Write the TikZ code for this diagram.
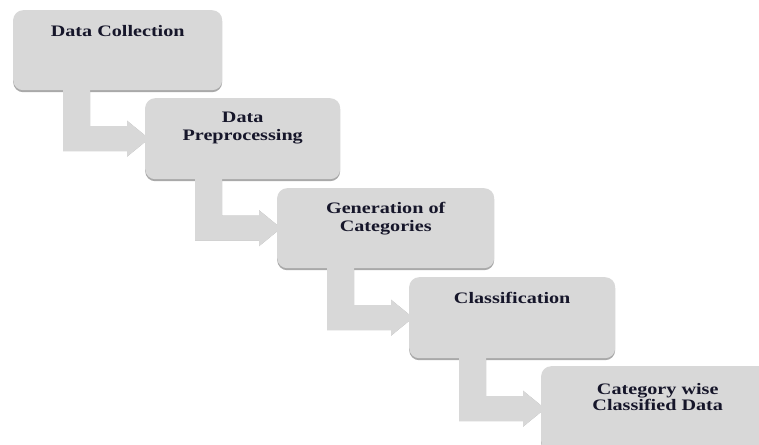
\documentclass[tikz,border=0pt]{standalone}
\usepackage{fontspec}
\usetikzlibrary{calc}
\newfontfamily\boxfont{Liberation Serif}[UprightFont=* Bold, FakeStretch=1.26]
\definecolor{boxgray}{HTML}{D8D8D8}
\definecolor{shadegray}{HTML}{A9A9A9}
\definecolor{inkcol}{HTML}{16162A}
\newcommand{\bentarrowshape}[3]{%
  \fill[#3] let \p1=(#1.south west), \p2=(#2.west) in
    (\x1+50pt,\y1+5pt) -- (\x1+50pt,\y2-12.5pt) -- (\x2-18pt,\y2-12.5pt)
    -- (\x2-18pt,\y2-18pt) -- (\x2+4pt,\y2) -- (\x2-18pt,\y2+18pt)
    -- (\x2-18pt,\y2+12.5pt) -- (\x1+77pt,\y2+12.5pt) -- (\x1+77pt,\y1+5pt) -- cycle;}
\newcommand{\bentarrow}[2]{%
  \bentarrowshape{#1}{#2}{shadegray,yshift=-2pt}%
  \bentarrowshape{#1}{#2}{boxgray}}
\tikzset{
  stage/.style={rectangle, rounded corners=10pt, fill=boxgray, inner sep=0pt, anchor=north west},
  stageshadow/.style={rectangle, rounded corners=10pt, fill=shadegray, inner sep=0pt, anchor=north west},
  label/.style={font=\boxfont\fontsize{16}{18}\selectfont, text=inkcol, align=center, inner sep=0pt, anchor=north},
}
\begin{document}
\begin{tikzpicture}[x=1pt,y=-1pt]
\useasboundingbox (0,0) rectangle (759,444);
\clip (0,0) rectangle (759,444);
\fill[white] (0,0) rectangle (759,444);
% shadows of boxes
\node[stageshadow, minimum width=209pt, minimum height=80pt] (s1) at (13,12) {};
\node[stageshadow, minimum width=195pt, minimum height=81pt] (s2) at (145,100) {};
\node[stageshadow, minimum width=217pt, minimum height=80pt] (s3) at (277,190) {};
\node[stageshadow, minimum width=206pt, minimum height=81pt] (s4) at (409,279) {};
\node[stageshadow, minimum width=233pt, minimum height=85pt] (s5) at (541,368) {};
% boxes (positions only used for anchors first)
\path
  node[stage, fill=none, minimum width=209pt, minimum height=80pt] (b1) at (13,10) {}
  node[stage, fill=none, minimum width=195pt, minimum height=81pt] (b2) at (145,98) {}
  node[stage, fill=none, minimum width=217pt, minimum height=80pt] (b3) at (277,188) {}
  node[stage, fill=none, minimum width=206pt, minimum height=81pt] (b4) at (409,277) {}
  node[stage, fill=none, minimum width=233pt, minimum height=85pt] (b5) at (541,366) {};
% arrows
\bentarrow{b1}{b2}
\bentarrow{b2}{b3}
\bentarrow{b3}{b4}
\bentarrow{b4}{b5}
% filled boxes
\node[stage, minimum width=209pt, minimum height=80pt] (f1) at (13,10) {};
\node[stage, minimum width=195pt, minimum height=81pt] (f2) at (145,98) {};
\node[stage, minimum width=217pt, minimum height=80pt] (f3) at (277,188) {};
\node[stage, minimum width=206pt, minimum height=81pt] (f4) at (409,277) {};
\node[stage, minimum width=233pt, minimum height=85pt] (f5) at (541,366) {};
% labels
\node[label] (t1) at ($(b1.north)+(0,15)$) {Data Collection};
\node[label] (t2) at ($(b2.north)+(0,14)$) {Data\\Preprocessing};
\node[label] (t3) at ($(b3.north)+(0,14)$) {Generation of\\Categories};
\node[label] (t4) at ($(b4.north)+(0,15)$) {Classification};
\node[label, font=\boxfont\fontsize{16}{16}\selectfont] (t5) at ($(b5.north)+(0,17)$) {Category wise\\Classified Data};
\end{tikzpicture}
\end{document}
